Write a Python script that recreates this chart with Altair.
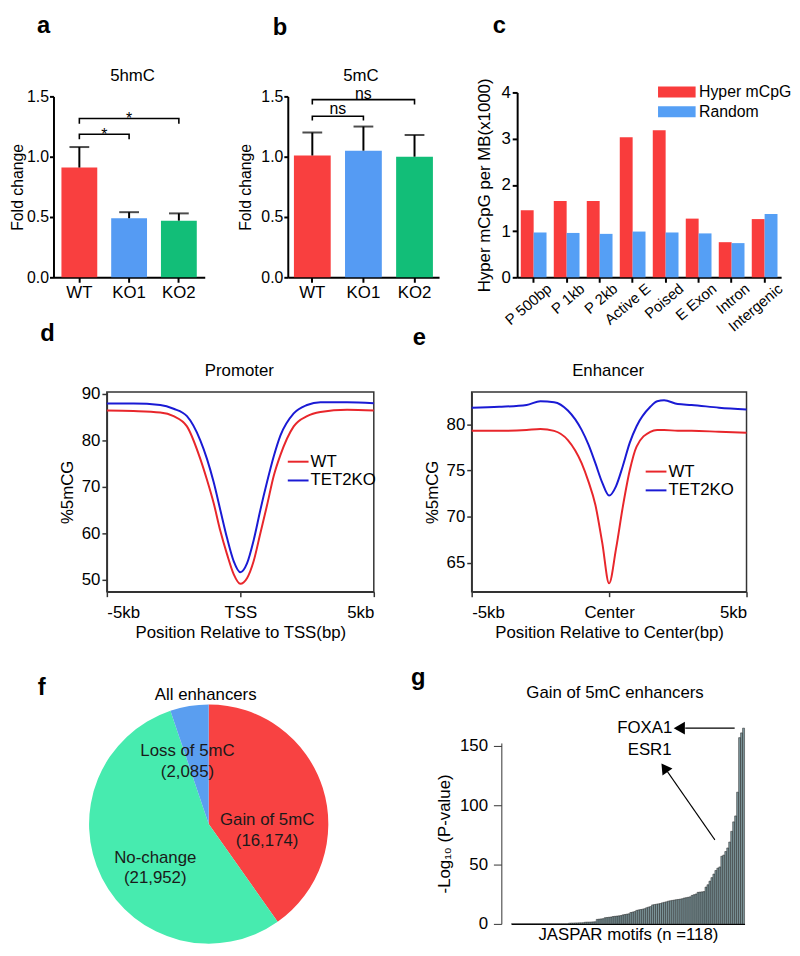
import altair as alt
import pandas as pd

FONT = "Liberation Sans"

# ---------------- data ----------------
groups = ["WT", "KO1", "KO2"]
bar_colors = ["#F93F3F", "#559BF3", "#12BE78"]
hmc_mean = [0.91, 0.49, 0.47]
hmc_upper = [1.08, 0.54, 0.53]
mc_mean = [1.01, 1.05, 1.00]
mc_upper = [1.20, 1.25, 1.18]

regions = ["P 500bp", "P 1kb", "P 2kb", "Active E", "Poised", "E Exon", "Intron", "Intergenic"]
series_c = ["Hyper mCpG", "Random"]
hyper = [1.45, 1.65, 1.65, 3.03, 3.18, 1.27, 0.76, 1.26]
random_ = [0.97, 0.96, 0.94, 0.99, 0.97, 0.95, 0.74, 1.37]

prom_pos = [-5, -4, -3, -2.5, -2, -1.5, -1.25, -1, -0.75, -0.5, -0.25, 0,
            0.25, 0.5, 0.75, 1, 1.25, 1.5, 2, 2.5, 3, 4, 5]
prom_wt = [86.4, 86.3, 86.0, 85.2, 83.0, 76.0, 71.5, 66.5, 60.5, 55.5, 51.2, 49.1,
           50.3, 54.0, 60.0, 66.0, 72.3, 76.8, 83.0, 85.2, 86.1, 86.6, 86.4]
prom_ko = [87.9, 87.9, 87.6, 86.8, 85.2, 80.0, 76.0, 71.0, 65.0, 59.0, 54.0, 51.6,
           53.5, 58.5, 65.0, 71.0, 76.5, 81.0, 85.8, 87.6, 88.2, 88.2, 88.0]

enh_pos = [-5, -4, -3, -2.5, -2, -1.5, -1, -0.75, -0.5, -0.25, 0,
           0.25, 0.5, 0.75, 1, 1.5, 1.75, 2, 2.5, 3, 4, 5]
enh_wt = [79.3, 79.3, 79.4, 79.5, 79.3, 78.3, 75.8, 73.8, 71.3, 67.2, 62.8,
          66.5, 71.1, 75.0, 77.6, 79.2, 79.4, 79.4, 79.3, 79.3, 79.2, 79.1]
enh_ko = [81.8, 81.9, 82.1, 82.5, 82.4, 81.5, 79.4, 77.8, 75.8, 73.7, 72.3,
          73.3, 75.5, 78.0, 79.8, 81.9, 82.5, 82.6, 82.2, 82.1, 81.8, 81.6]
profile_series = ["WT", "TET2KO"]
profile_colors = ["#E8262B", "#1A1AD4"]

pie_cats = ["Gain of 5mC", "No-change", "Loss of 5mC"]
pie_counts = [16174, 21952, 2085]
pie_colors = ["#F84242", "#47EBAF", "#5A9EF0"]

motif_logp = [
    0, 0, 0, 0, 0, 0, 0, 0, 0, 0,
    0, 0, 0, 0, 0, 0, 0, 0, 0, 0,
    0, 0, 0, 0, 0, 0, 0, 0, 0, 0.6,
    0.7, 0.7, 0.8, 0.8, 0.9, 0.9, 1.0, 1.4, 1.5, 1.5,
    1.6, 1.7, 1.8, 3.8, 4.0, 4.2, 4.4, 5.2, 5.4, 5.6,
    5.8, 6.2, 6.4, 6.6, 6.8, 7.0, 7.6, 7.9, 8.2, 8.5,
    9.6, 10.0, 10.4, 11.4, 11.8, 12.1, 12.4, 12.8, 13.6, 14.2,
    14.6, 16.0, 16.3, 16.6, 16.9, 17.2, 17.8, 18.2, 18.6, 19.2,
    19.5, 19.8, 20.1, 20.4, 20.6, 20.9, 21.2, 21.8, 22.1, 22.4,
    22.8, 24.0, 24.6, 25.2, 26.6, 26.8, 27.0, 27.2, 31.0, 33.0,
    36.0, 39.0, 42.0, 45.0, 47.0, 48.0, 57.0, 58.0, 61.0, 64.0,
    69.0, 78.0, 86.0, 91.0, 111.0, 157.0, 161.0, 165.0,
]


# ---------------- helpers ----------------
def txt(text, x, y, size=17, weight="normal", align="center", baseline="middle"):
    return alt.Chart(pd.DataFrame({"t": [text]})).mark_text(
        fontSize=size, fontWeight=weight, align=align, baseline=baseline,
        color="black", font=FONT
    ).encode(text="t:N", x=alt.value(x), y=alt.value(y))


def frame(L, R, T, B, W, H):
    # invisible rectangle that fixes the panel's full layout bounds
    return alt.Chart(pd.DataFrame({"k": [0]})).mark_rect(opacity=0).encode(
        x=alt.value(-L), x2=alt.value(W + R), y=alt.value(-T), y2=alt.value(H + B))


def spacer():
    return alt.Chart(pd.DataFrame({"k": [0]})).mark_rect(opacity=0).encode(
        x=alt.value(0), x2=alt.value(1), y=alt.value(0), y2=alt.value(1)
    ).properties(width=1, height=1)


def bold_axis(**kw):
    base = dict(domainWidth=2, domainColor="black", tickWidth=2, tickColor="black",
                tickSize=5, labelPadding=2, labelFontSize=17, titleFontSize=17,
                labelColor="black", titleColor="black", grid=False)
    base.update(kw)
    return alt.Axis(**base)


T1 = 80
B2 = 58


def bar_panel(means, uppers, brackets, marks, mark_dxs, letter, letter_pos, title,
              title_pos, pad_outer, LR, title_pad):
    df = pd.DataFrame({"g": groups, "m": means, "u": uppers})
    xs = alt.Scale(domain=groups, paddingInner=0.28, paddingOuter=pad_outer)
    ys = alt.Scale(domain=[0, 1.5], range=[187, 4], nice=False)
    xax = bold_axis(title=None, labelAngle=0, labelFontSize=17)
    yax = bold_axis(title="Fold change", values=[0, 0.5, 1.0, 1.5], format=".1f",
                    titlePadding=title_pad, tickSize=4, labelPadding=1, labelFontSize=16,
                    titleFontSize=16)
    X = alt.X("g:N", scale=xs, axis=xax, sort=groups)
    bars = alt.Chart(df).mark_bar().encode(
        x=X, y=alt.Y("m:Q", scale=ys, axis=yax),
        color=alt.Color("g:N", scale=alt.Scale(domain=groups, range=bar_colors), legend=None),
    )
    err = alt.Chart(df).mark_rule(color="black", strokeWidth=2).encode(
        x=X, y=alt.Y("m:Q", scale=ys, axis=yax), y2="u:Q")
    cap = alt.Chart(df).mark_tick(color="black", thickness=2, size=20).encode(
        x=X, y=alt.Y("u:Q", scale=ys, axis=yax))
    rows = []
    for k, (g1, g2, ytop, ybot) in enumerate(brackets):
        rows += [(k, g1, ybot, 0), (k, g1, ytop, 1), (k, g2, ytop, 2), (k, g2, ybot, 3)]
    dfb = pd.DataFrame(rows, columns=["id", "g", "y", "o"])
    br = alt.Chart(dfb).mark_line(color="black", strokeWidth=1.6).encode(
        x=X, y=alt.Y("y:Q", scale=ys, axis=yax), detail="id:N", order="o:Q")
    layers = [frame(LR[0], LR[1], T1, 56, 153, 187), bars, err, cap, br]
    for (g1, g2, ytop, ybot), (label, dy), dx in zip(brackets, marks, mark_dxs):
        d = pd.DataFrame({"g": [g1], "y": [ytop], "t": [label]})
        layers.append(alt.Chart(d).mark_text(fontSize=16, dx=dx, dy=dy, baseline="alphabetic",
                                             color="black", font=FONT).encode(
            x=X, y=alt.Y("y:Q", scale=ys, axis=yax), text="t:N"))
    layers.append(txt(letter, *letter_pos, size=24, weight="bold", baseline="alphabetic"))
    layers.append(txt(title, *title_pos))
    return alt.layer(*layers).properties(width=153, height=187)


# ---------------- panel a / b ----------------
pa = bar_panel(hmc_mean, hmc_upper,
               [("WT", "KO1", 1.186, 1.145), ("WT", "KO2", 1.317, 1.273)],
               [("*", 6), ("*", 6)], [25.2, 50.3],
               "a", (-10, -60), "5hmC", (80, -17), 0.16, (43, 24), 1)
pb = bar_panel(mc_mean, mc_upper,
               [("WT", "KO1", 1.336, 1.30), ("WT", "KO2", 1.473, 1.432)],
               [("ns", -2), ("ns", -1)], [25.8, 51.7],
               "b", (-8, -58), "5mC", (74, -17), 0.12, (60, 34), 7)

# ---------------- panel c ----------------
df_c = pd.DataFrame({
    "region": regions * 2,
    "series": [series_c[0]] * len(regions) + [series_c[1]] * len(regions),
    "v": hyper + random_,
})
bars_c = alt.Chart(df_c).mark_bar().encode(
    x=alt.X("region:N", sort=regions,
            scale=alt.Scale(domain=regions, paddingInner=0.22, paddingOuter=0.11),
            axis=bold_axis(title=None, labelAngle=320, labelAlign="right",
                           labelBaseline="middle", labelPadding=4, labelOffset=16,
                           labelFontSize=15)),
    xOffset=alt.XOffset("series:N", scale=alt.Scale(domain=series_c)),
    y=alt.Y("v:Q", scale=alt.Scale(domain=[0, 4], nice=False),
            axis=bold_axis(title="Hyper mCpG per MB(x1000)", values=[0, 1, 2, 3, 4],
                           format="d", titlePadding=8)),
    color=alt.Color("series:N", scale=alt.Scale(domain=series_c, range=["#F93C3C", "#559FF5"]),
                    legend=alt.Legend(title=None, orient="none", legendX=152, legendY=-10,
                                      symbolType="M-2,-0.58H2V0.58H-2Z", symbolSize=361,
                                      symbolStrokeWidth=0, labelFontSize=16, labelFont=FONT,
                                      labelColor="black", labelOffset=13, rowPadding=2,
                                      padding=0)),
)
pc = alt.layer(frame(45, 11, T1, 56, 267, 187), bars_c,
               txt("c", -18, -60, size=24, weight="bold", baseline="alphabetic")
               ).properties(width=267, height=187)


# ---------------- panels d / e ----------------
def profile_panel(pos, wt, ko, dom, yticks, center_label, xtitle, title, title_pos,
                  letter, letter_pos, legend_xy, w, h, LR):
    df = pd.DataFrame({"pos": pos * 2, "v": wt + ko,
                       "s": [profile_series[0]] * len(pos) + [profile_series[1]] * len(pos)})
    axis_common = dict(domainWidth=1.5, domainColor="#333333", tickWidth=1.5,
                       tickColor="#333333", tickSize=5, labelFontSize=17, titleFontSize=17,
                       labelColor="black", titleColor="black", grid=False)
    lines = alt.Chart(df).mark_line(strokeWidth=2, interpolate="monotone").encode(
        x=alt.X("pos:Q", scale=alt.Scale(domain=[-5, 5], nice=False),
                axis=alt.Axis(values=[-5, 0, 5], labelFlush=True, labelPadding=8,
                              labelExpr="datum.value == 0 ? '%s' : (datum.value < 0 ? '-5kb' : '5kb')" % center_label,
                              title=xtitle, titlePadding=4, **axis_common)),
        y=alt.Y("v:Q", scale=alt.Scale(domain=dom, nice=False, zero=False),
                axis=alt.Axis(values=yticks, title="%5mCG", titlePadding=5, labelPadding=2,
                              **axis_common)),
        color=alt.Color("s:N", sort=profile_series,
                        scale=alt.Scale(domain=profile_series, range=profile_colors),
                        legend=alt.Legend(title=None, orient="none", legendX=legend_xy[0],
                                          legendY=legend_xy[1], symbolType="M-1.5,0H1.5",
                                          symbolSize=196, symbolStrokeWidth=2,
                                          labelFontSize=17, labelFont=FONT, labelColor="black",
                                          labelOffset=4, rowPadding=1, padding=0)),
    )
    return alt.layer(frame(LR[0], LR[1], 76, B2, w, h), lines,
                     txt(letter, *letter_pos, size=24, weight="bold", baseline="alphabetic"),
                     txt(title, *title_pos)).properties(
        width=w, height=h, view=alt.ViewBackground(stroke="#333333", strokeWidth=1.5))


pd_ = profile_panel(prom_pos, prom_wt, prom_ko, [47.4, 90.4], [50, 60, 70, 80, 90], "TSS",
                    "Position Relative to TSS(bp)", "Promoter", (134, -21),
                    "d", (-60, -52), (185, 62), 270, 202, (98, 35))
pe = profile_panel(enh_pos, enh_wt, enh_ko, [61.9, 83.5], [65, 70, 75, 80], "Center",
                   "Position Relative to Center(bp)", "Enhancer", (138, -21),
                   "e", (-53, -48), (178, 72), 278, 202, (62, 40))

# ---------------- panel f (pie) ----------------
total = sum(pie_counts)
starts = [sum(pie_counts[:i]) for i in range(len(pie_counts))]
df_f = pd.DataFrame({
    "cat": pie_cats, "n": pie_counts, "o": list(range(len(pie_cats))),
    "mid": [s + n / 2 for s, n in zip(starts, pie_counts)],
    "label": [f"{c}\n({n:,})" for c, n in zip(pie_cats, pie_counts)],
})
tscale = alt.Scale(domain=[0, total], nice=False, zero=True)
arc = alt.Chart(df_f).mark_arc(outerRadius=121).encode(
    theta=alt.Theta("n:Q", stack=True, scale=tscale),
    color=alt.Color("cat:N", scale=alt.Scale(domain=pie_cats, range=pie_colors), legend=None),
    order=alt.Order("o:Q"),
)
f_layers = [frame(77, 76, 40, 0, 250, 244), arc]
for cat, r, dx, dy in [("Gain of 5mC", 62, 0, 15), ("No-change", 64, 3, 5), ("Loss of 5mC", 77, -9, 2)]:
    f_layers.append(
        alt.Chart(df_f).transform_filter(alt.datum.cat == cat).mark_text(
            radius=r, dx=dx, dy=dy, fontSize=17, lineBreak="\n", align="center",
            baseline="middle", color="#1a1a1a", font=FONT, lineHeight=21
        ).encode(theta=alt.Theta("mid:Q", stack=None, scale=tscale), text="label:N")
    )
f_layers.append(txt("f", -44, -9, size=24, weight="bold", baseline="alphabetic"))
f_layers.append(txt("All enhancers", 122, -8))
pf = alt.layer(*f_layers).properties(width=250, height=244)

# ---------------- panel g ----------------
df_g = pd.DataFrame({"i": list(range(len(motif_logp))), "v": motif_logp})
bars_g = alt.Chart(df_g).mark_bar(fill="#7E979C", stroke="#1E1E1E", strokeWidth=0.5).encode(
    x=alt.X("i:O", scale=alt.Scale(range=[10, 246], paddingInner=0, paddingOuter=0),
            axis=alt.Axis(labels=False, ticks=False, title="JASPAR motifs (n =118)",
                          domainColor="black", domainWidth=1.2, titlePadding=3,
                          titleFontSize=17, titleColor="black")),
    y=alt.Y("v:Q", scale=alt.Scale(domain=[0, 152.5], range=[223, 40], nice=False),
            axis=alt.Axis(values=[0, 50, 100, 150], title="-Log₁₀ (P-value)", tickSize=8,
                          labelPadding=6, titlePadding=6, domainColor="#333333",
                          tickColor="#333333", domainWidth=1, tickWidth=1,
                          labelFontSize=17, titleFontSize=17, labelColor="black",
                          titleColor="black", grid=False)),
)
foxa_line = alt.Chart(pd.DataFrame({"k": [0]})).mark_rule(color="black", strokeWidth=1.3).encode(
    x=alt.value(236), x2=alt.value(186), y=alt.value(25))
foxa_head = alt.Chart(pd.DataFrame({"k": [0]})).mark_point(
    shape="triangle-left", filled=True, color="black", size=170, opacity=1).encode(
    x=alt.value(180), y=alt.value(25))
esr_line = alt.Chart(pd.DataFrame({"k": [0]})).mark_rule(color="black", strokeWidth=1.1).encode(
    x=alt.value(216), x2=alt.value(168), y=alt.value(138), y2=alt.value(69))
esr_head = alt.Chart(pd.DataFrame({"k": [0]})).mark_point(
    shape="triangle-up", filled=True, color="black", size=150, angle=325, opacity=1).encode(
    x=alt.value(165), y=alt.value(65))
pg = alt.layer(
    frame(95, 30, 40, 21, 248, 223),
    bars_g, foxa_line, foxa_head, esr_line, esr_head,
    txt("FOXA1", 145, 25), txt("ESR1", 150, 47),
    txt("g", -84, -19, size=24, weight="bold", baseline="alphabetic"),
    txt("Gain of 5mC enhancers", 115, -10),
).properties(width=248, height=223)


# ---------------- assemble ----------------
def hc(*charts, spacing=0):
    return alt.hconcat(*charts, spacing=spacing).resolve_scale(color="independent")


def vc(*charts, spacing=0):
    return alt.vconcat(*charts, spacing=spacing).resolve_scale(color="independent")


row1 = hc(spacer(), pa, pb, pc)
row2 = hc(spacer(), pd_, pe)
row3 = hc(spacer(), pf, pg)

chart = vc(vc(row1, row2, spacing=-19), row3, spacing=14).properties(
    padding=0
).configure(font=FONT).configure_view(strokeWidth=0).configure_axis(
    labelFont=FONT, titleFont=FONT, titleFontWeight="normal")

chart.save("out.html", embed_options={"renderer": "svg", "actions": False})
